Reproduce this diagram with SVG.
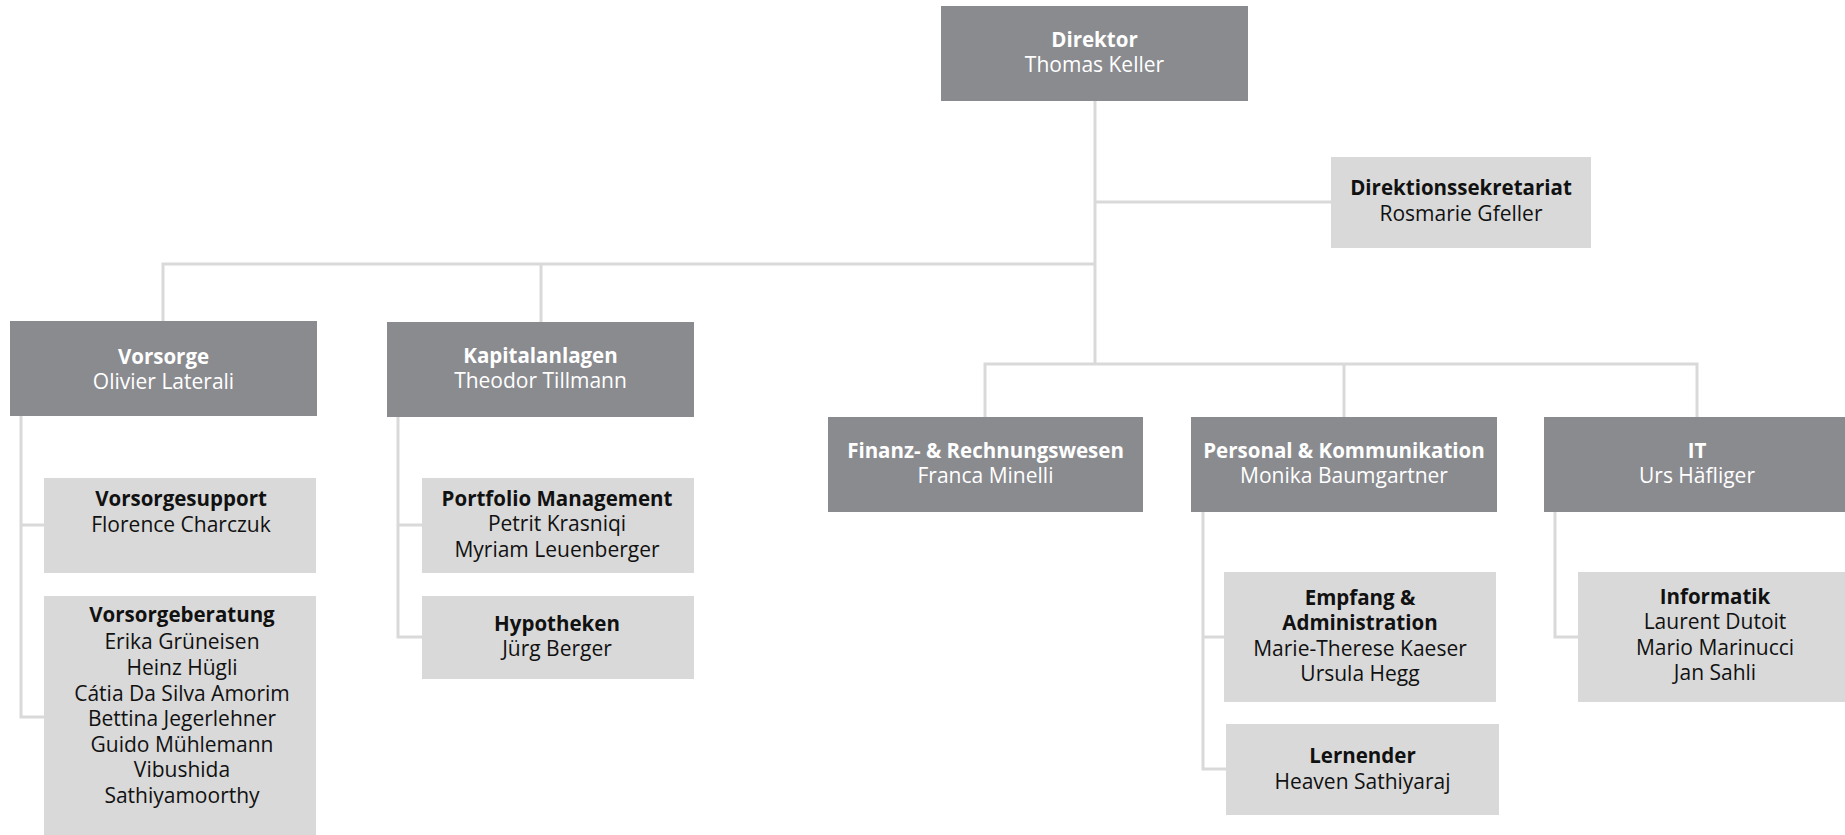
<svg xmlns="http://www.w3.org/2000/svg" width="1845" height="835" viewBox="0 0 1845 835">
<style>
.dark{fill:#8a8b8f}
.light{fill:#d9d9d9}
text{font-family:"Open Sans","Noto Sans","Liberation Sans",sans-serif;font-size:21px;text-anchor:middle}
.dark-t{fill:#ffffff}
.light-t{fill:#111111}
.b{font-weight:700;font-size:20.5px}
#connectors path{fill:none;stroke:#d9d9d9;stroke-width:3}
</style>
<rect width="1845" height="835" fill="#ffffff"/>
<g id="connectors">
<path d="M1095,101 V364"/>
<path d="M1095,202 H1331"/>
<path d="M163,321 V264 H1095"/>
<path d="M541,264 V322"/>
<path d="M985,417 V364 H1697 V417"/>
<path d="M1344,364 V417"/>
<path d="M21,416 V717 H44"/>
<path d="M21,525 H44"/>
<path d="M398,417 V637 H422"/>
<path d="M398,525 H422"/>
<path d="M1203,512 V769 H1226"/>
<path d="M1203,637 H1224"/>
<path d="M1555,512 V637 H1578"/>
</g>
<g id="direktor">
<rect class="dark" x="941" y="6" width="307" height="95"/>
<text class="dark-t" x="1094.5" y="47"><tspan class="b">Direktor</tspan><tspan x="1094.5" y="72">Thomas Keller</tspan></text>
</g>
<g id="sekretariat">
<rect class="light" x="1331" y="157" width="260" height="91"/>
<text class="light-t" x="1461" y="195"><tspan class="b">Direktionssekretariat</tspan><tspan x="1461" y="221">Rosmarie Gfeller</tspan></text>
</g>
<g id="vorsorge">
<rect class="dark" x="10" y="321" width="307" height="95"/>
<text class="dark-t" x="163.5" y="364"><tspan class="b">Vorsorge</tspan><tspan x="163.5" y="389">Olivier Laterali</tspan></text>
</g>
<g id="kapitalanlagen">
<rect class="dark" x="387" y="322" width="307" height="95"/>
<text class="dark-t" x="540.5" y="363"><tspan class="b">Kapitalanlagen</tspan><tspan x="540.5" y="388">Theodor Tillmann</tspan></text>
</g>
<g id="vorsorgesupport">
<rect class="light" x="44" y="478" width="272" height="95"/>
<text class="light-t" x="181" y="506"><tspan class="b">Vorsorgesupport</tspan><tspan x="181" y="532">Florence Charczuk</tspan></text>
</g>
<g id="vorsorgeberatung">
<rect class="light" x="44" y="596" width="272" height="245"/>
<text class="light-t" x="182" y="622"><tspan class="b">Vorsorgeberatung</tspan><tspan x="182" y="649">Erika Grüneisen</tspan><tspan x="182" y="675">Heinz Hügli</tspan><tspan x="182" y="701">Cátia Da Silva Amorim</tspan><tspan x="182" y="726">Bettina Jegerlehner</tspan><tspan x="182" y="752">Guido Mühlemann</tspan><tspan x="182" y="777">Vibushida</tspan><tspan x="182" y="803">Sathiyamoorthy</tspan></text>
</g>
<g id="portfolio">
<rect class="light" x="422" y="478" width="272" height="95"/>
<text class="light-t" x="557" y="506"><tspan class="b">Portfolio Management</tspan><tspan x="557" y="531">Petrit Krasniqi</tspan><tspan x="557" y="557">Myriam Leuenberger</tspan></text>
</g>
<g id="hypotheken">
<rect class="light" x="422" y="596" width="272" height="83"/>
<text class="light-t" x="557" y="631"><tspan class="b">Hypotheken</tspan><tspan x="557" y="656">Jürg Berger</tspan></text>
</g>
<g id="finanz">
<rect class="dark" x="828" y="417" width="315" height="95"/>
<text class="dark-t" x="985.5" y="458"><tspan class="b">Finanz- &amp; Rechnungswesen</tspan><tspan x="985.5" y="483">Franca Minelli</tspan></text>
</g>
<g id="personal">
<rect class="dark" x="1191" y="417" width="306" height="95"/>
<text class="dark-t" x="1344" y="458"><tspan class="b">Personal &amp; Kommunikation</tspan><tspan x="1344" y="483">Monika Baumgartner</tspan></text>
</g>
<g id="it">
<rect class="dark" x="1544" y="417" width="306" height="95"/>
<text class="dark-t" x="1697" y="458"><tspan class="b">IT</tspan><tspan x="1697" y="483">Urs Häfliger</tspan></text>
</g>
<g id="empfang">
<rect class="light" x="1224" y="572" width="272" height="130"/>
<text class="light-t" x="1360" y="605"><tspan class="b">Empfang &amp;</tspan><tspan class="b" x="1360" y="630">Administration</tspan><tspan x="1360" y="656">Marie-Therese Kaeser</tspan><tspan x="1360" y="681">Ursula Hegg</tspan></text>
</g>
<g id="lernender">
<rect class="light" x="1226" y="724" width="273" height="91"/>
<text class="light-t" x="1362.5" y="763"><tspan class="b">Lernender</tspan><tspan x="1362.5" y="789">Heaven Sathiyaraj</tspan></text>
</g>
<g id="informatik">
<rect class="light" x="1578" y="572" width="274" height="130"/>
<text class="light-t" x="1715" y="604"><tspan class="b">Informatik</tspan><tspan x="1715" y="629">Laurent Dutoit</tspan><tspan x="1715" y="655">Mario Marinucci</tspan><tspan x="1715" y="680">Jan Sahli</tspan></text>
</g>
</svg>
